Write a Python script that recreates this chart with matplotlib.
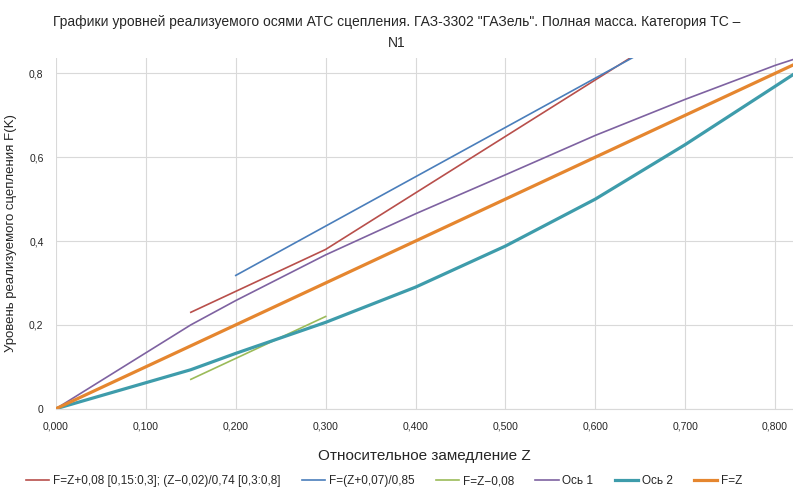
import matplotlib
matplotlib.use("Agg")
import matplotlib.pyplot as plt
from matplotlib.ticker import FuncFormatter, MultipleLocator

plt.rcParams["font.family"] = ["Liberation Sans Narrow", "Liberation Sans", "DejaVu Sans"]

# ── data ───────────────────────────────────────────────────────────────────
red_z = [0.15, 0.30, 0.80]
red_f = [0.23, 0.38, 1.054]

blue_z = [0.20, 0.80]
blue_f = [0.318, 1.024]

green_z = [0.15, 0.30]
green_f = [0.07, 0.22]

axle1_z = [0.0, 0.15, 0.20, 0.30, 0.40, 0.50, 0.60, 0.70, 0.80, 0.82]
axle1_f = [0.0, 0.20, 0.258, 0.367, 0.465, 0.558, 0.652, 0.738, 0.819, 0.833]

axle2_z = [0.0, 0.10, 0.15, 0.20, 0.30, 0.40, 0.50, 0.60, 0.70, 0.80, 0.82]
axle2_f = [0.0, 0.062, 0.093, 0.132, 0.206, 0.290, 0.388, 0.500, 0.630, 0.769, 0.797]

ideal_z = [0.0, 0.82]
ideal_f = [0.0, 0.82]

labels = [
    "F=Z+0,08 [0,15:0,3]; (Z\u22120,02)/0,74 [0,3:0,8]",
    "F=(Z+0,07)/0,85",
    "F=Z\u22120,08",
    "Ось 1",
    "Ось 2",
    "F=Z",
]

RED = "#B84F4B"
BLUE = "#4A7EBB"
GREEN = "#9BBB59"
PURPLE = "#7E62A1"
TEAL = "#3E9CAB"
ORANGE = "#E5862F"
INK = "#262626"
GRID = "#D9D9D9"

fig = plt.figure(figsize=(7.93, 4.96), dpi=100)
ax = fig.add_axes([56 / 793, 1 - 408.7 / 496, 1 - 56 / 793, (408.7 - 58.3) / 496])

ax.plot(red_z, red_f, color=RED, lw=1.2, label=labels[0])
ax.plot(blue_z, blue_f, color=BLUE, lw=1.2, label=labels[1])
ax.plot(green_z, green_f, color=GREEN, lw=1.2, label=labels[2])
ax.plot(axle1_z, axle1_f, color=PURPLE, lw=1.2, label=labels[3])
ax.plot(axle2_z, axle2_f, color=TEAL, lw=2.3, label=labels[4])
ax.plot(ideal_z, ideal_f, color=ORANGE, lw=2.3, label=labels[5])

ax.set_xlim(0, 0.82)
ax.set_ylim(0, 0.836)
ax.xaxis.set_major_locator(MultipleLocator(0.1))
ax.yaxis.set_major_locator(MultipleLocator(0.2))
ax.xaxis.set_major_formatter(FuncFormatter(lambda v, p: f"{v:.3f}".replace(".", ",")))
ax.yaxis.set_major_formatter(
    FuncFormatter(lambda v, p: "0" if abs(v) < 1e-9 else f"{v:.1f}".replace(".", ",")))

ax.grid(True, color=GRID, lw=0.8)
ax.set_axisbelow(True)
for side in ["top", "right", "left"]:
    ax.spines[side].set_visible(False)
ax.spines["bottom"].set_color(GRID)
ax.tick_params(length=0, labelsize=7.5, colors=INK)
ax.tick_params(axis="x", pad=9)
ax.tick_params(axis="y", pad=9)

ax.set_xlabel("Относительное замедление Z", fontsize=11, color=INK, labelpad=13)
ax.set_ylabel("Уровень реализуемого сцепления F(K)", fontsize=9.5, color=INK)
ax.yaxis.set_label_coords(-(56 - 17) / 737, 0.5)

fig.text(0.5, 1 - 22 / 496,
         "Графики уровней реализуемого осями АТС сцепления. ГАЗ-3302 \"ГАЗель\". "
         "Полная масса. Категория ТС \u2013",
         ha="center", va="center", fontsize=10, color=INK)
fig.text(0.5, 1 - 43 / 496, "N1", ha="center", va="center", fontsize=10, color=INK)

fig.legend(loc="center", bbox_to_anchor=(384 / 793, 1 - 481 / 496), ncol=6,
           frameon=False, fontsize=8.5, handlelength=2.0, handletextpad=0.3,
           columnspacing=1.8, labelcolor=INK)

fig.savefig("out.png", dpi=100)
